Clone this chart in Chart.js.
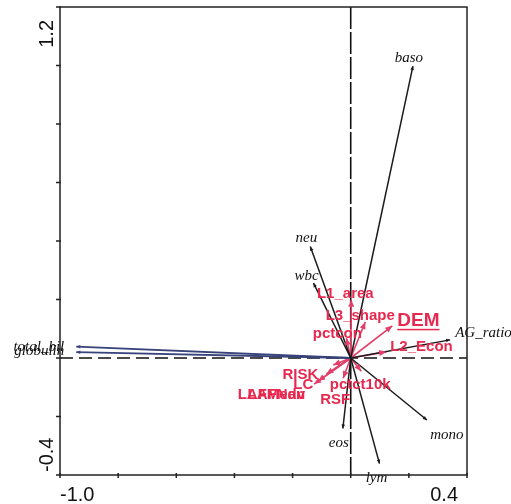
<!DOCTYPE html>
<html>
<head>
<meta charset="utf-8">
<script src="https://cdn.jsdelivr.net/npm/chart.js@4.4.1/dist/chart.umd.min.js"></script>
<style>
  html, body { margin: 0; padding: 0; background: #fff; }
  #c { display: block; }
</style>
</head>
<body>
<canvas id="c" width="511" height="504"></canvas>
<script>
// response variables (black / blue arrows)
const respNames = ['baso', 'neu', 'wbc', 'AG_ratio', 'mono', 'eos', 'lym', 'total_bil', 'globulin'];
const respX = [0.214, -0.139, -0.128, 0.342, 0.262, -0.027, 0.099, -0.944, -0.944];
const respY = [0.998, 0.381, 0.256, 0.062, -0.212, -0.241, -0.361, 0.039, 0.020];

// explanatory variables (red arrows)
const envNames = ['L1_area', 'L3_shape', 'pctcon', 'DEM', 'L2_Econ', 'RISK', 'LC', 'LAFMean', 'LAFNdv', 'pctct10k', 'RSF'];
const envX = [0.002, 0.050, -0.015, 0.143, 0.122, -0.060, -0.084, -0.112, -0.126, 0.036, -0.026];
const envY = [0.199, 0.123, 0.068, 0.110, 0.021, -0.024, -0.055, -0.079, -0.089, -0.045, -0.069];

// axes
const xTicks = [-1.0, -0.8, -0.6, -0.4, -0.2, 0.0, 0.2, 0.4];
const yTicks = [-0.4, -0.2, 0.0, 0.2, 0.4, 0.6, 0.8, 1.0, 1.2];
const xTickLabels = ['-1.0', '0.4'];
const yTickLabels = ['-0.4', '1.2'];

// label placement (pixels from arrow tip) and styles
const respColor = ['#1b1b1b', '#1b1b1b', '#1b1b1b', '#1b1b1b', '#1b1b1b', '#1b1b1b', '#1b1b1b', '#37437a', '#37437a'];
const respLab = [[-4, -8, 'center'], [-4, -8, 'center'], [-7, -7, 'center'], [5, -7, 'left'], [20, 15, 'center'],
                 [-4, 15, 'center'], [-3, 14, 'center'], [-12, 0, 'right'], [-12, -1, 'right']];
const envLab = [[-6, -6, 'center'], [-5, -6, 'center'], [-9, -4, 'center'], [5, -5, 'left'], [4, -5, 'left'],
                [-15, 10, 'right'], [-13, 11, 'right'], [-13, 14, 'right'], [-9, 11, 'right'], [-1, 14, 'center'], [-8, 22, 'center']];
const RED = '#e8294f';
const RED_LINE = '#e2406a';

const datasets = [];
respNames.forEach((n, i) => {
  datasets.push({ label: n, data: [{ x: 0, y: 0 }, { x: respX[i], y: respY[i] }], showLine: true,
    borderColor: respColor[i], borderWidth: i >= 7 ? 1.8 : 1.5, pointRadius: 0 });
});
envNames.forEach((n, i) => {
  datasets.push({ label: n, data: [{ x: 0, y: 0 }, { x: envX[i], y: envY[i] }], showLine: true,
    borderColor: RED_LINE, borderWidth: 1.6, pointRadius: 0 });
});

function head(ctx, x0, y0, x1, y1, len, w, color) {
  const a = Math.atan2(y1 - y0, x1 - x0);
  ctx.save();
  ctx.fillStyle = color;
  ctx.translate(x1, y1);
  ctx.rotate(a);
  ctx.beginPath();
  ctx.moveTo(0, 0);
  ctx.lineTo(-len, -w);
  ctx.lineTo(-len, w);
  ctx.closePath();
  ctx.fill();
  ctx.restore();
}

const biplot = {
  id: 'biplot',
  beforeDatasetsDraw(chart) {
    const { ctx, chartArea: a, scales: { x, y } } = chart;
    const x0 = x.getPixelForValue(0), y0 = y.getPixelForValue(0);
    ctx.save();
    ctx.strokeStyle = '#111';
    ctx.lineWidth = 1.6;
    ctx.setLineDash([22, 3]);
    ctx.beginPath();
    ctx.moveTo(x0, a.top); ctx.lineTo(x0, a.bottom);
    ctx.stroke();
    ctx.setLineDash([13, 6]);
    ctx.beginPath();
    ctx.moveTo(a.left, y0); ctx.lineTo(a.right, y0);
    ctx.stroke();
    ctx.restore();
  },
  afterDatasetsDraw(chart) {
    const { ctx, chartArea: a, scales: { x, y } } = chart;
    const x0 = x.getPixelForValue(0), y0 = y.getPixelForValue(0);

    // arrow heads
    respNames.forEach((n, i) => {
      head(ctx, x0, y0, x.getPixelForValue(respX[i]), y.getPixelForValue(respY[i]), 4, 1.8, respColor[i]);
    });
    envNames.forEach((n, i) => {
      head(ctx, x0, y0, x.getPixelForValue(envX[i]), y.getPixelForValue(envY[i]), 7, 3, RED_LINE);
    });

    // labels
    ctx.save();
    ctx.textBaseline = 'middle';
    ctx.font = 'italic 15px "Liberation Serif"';
    respNames.forEach((n, i) => {
      ctx.fillStyle = '#111';
      ctx.textAlign = respLab[i][2];
      ctx.fillText(n, x.getPixelForValue(respX[i]) + respLab[i][0], y.getPixelForValue(respY[i]) + respLab[i][1]);
    });
    ctx.fillStyle = RED;
    envNames.forEach((n, i) => {
      ctx.font = n === 'DEM' ? 'bold 19px "Liberation Sans"' : 'bold 15px "Liberation Sans"';
      ctx.textAlign = envLab[i][2];
      const px = x.getPixelForValue(envX[i]) + envLab[i][0];
      const py = y.getPixelForValue(envY[i]) + envLab[i][1];
      ctx.fillText(n, px, py);
      if (n === 'DEM') {
        const w = ctx.measureText(n).width;
        ctx.fillRect(px, py + 8, w, 1.5);
      }
    });
    ctx.restore();

    // frame, ticks, tick labels
    ctx.save();
    ctx.strokeStyle = '#222';
    ctx.lineWidth = 1.5;
    ctx.strokeRect(a.left, a.top, a.right - a.left, a.bottom - a.top);
    ctx.beginPath();
    xTicks.forEach(v => {
      const px = x.getPixelForValue(v);
      ctx.moveTo(px, a.bottom - 2); ctx.lineTo(px, a.bottom + 3);
    });
    yTicks.forEach(v => {
      const py = y.getPixelForValue(v);
      ctx.moveTo(a.left - 4, py); ctx.lineTo(a.left + 1, py);
    });
    ctx.stroke();

    ctx.fillStyle = '#111';
    ctx.font = '20px "Liberation Sans"';
    ctx.textBaseline = 'alphabetic';
    ctx.textAlign = 'left';
    ctx.fillText(xTickLabels[0], a.left, 501);
    ctx.textAlign = 'right';
    ctx.fillText(xTickLabels[1], a.right - 9, 501);

    ctx.save();
    ctx.translate(a.left - 7, a.bottom - 3);
    ctx.rotate(-Math.PI / 2);
    ctx.textAlign = 'left';
    ctx.fillText(yTickLabels[0], 0, 0);
    ctx.restore();
    ctx.save();
    ctx.translate(a.left - 7, a.top + 13);
    ctx.rotate(-Math.PI / 2);
    ctx.textAlign = 'right';
    ctx.fillText(yTickLabels[1], 0, 0);
    ctx.restore();
    ctx.restore();
  }
};

new Chart(document.getElementById('c'), {
  type: 'scatter',
  data: { datasets: datasets },
  options: {
    responsive: false,
    animation: false,
    layout: { padding: { left: 60, right: 44, top: 7, bottom: 29 } },
    scales: {
      x: { type: 'linear', min: -1.0, max: 0.4, display: false },
      y: { type: 'linear', min: -0.4, max: 1.2, display: false }
    },
    plugins: { legend: { display: false }, tooltip: { enabled: false } }
  },
  plugins: [biplot]
});
</script>
</body>
</html>
